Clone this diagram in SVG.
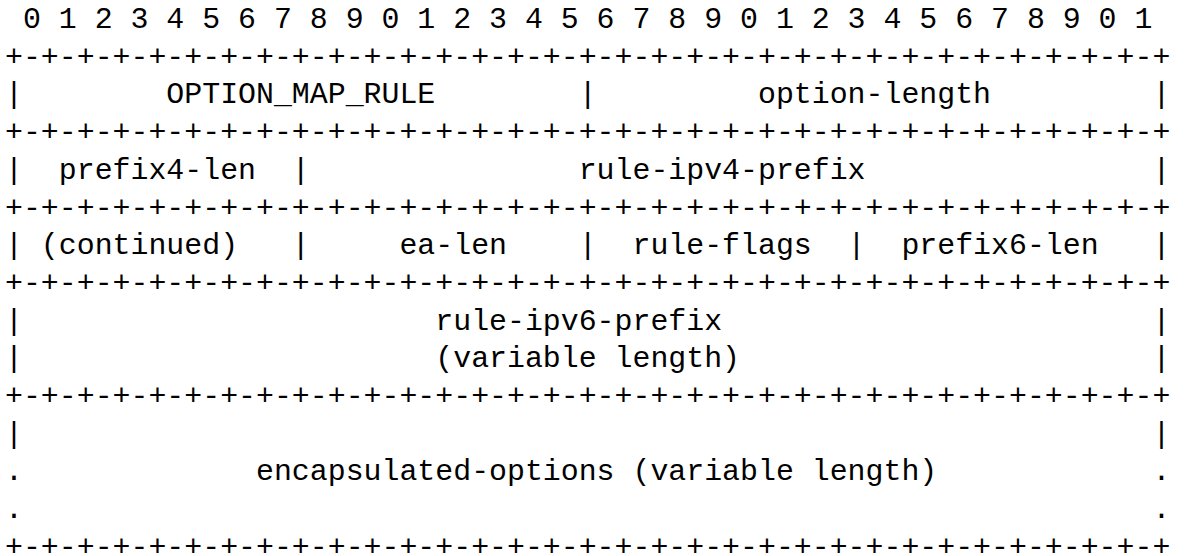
<svg xmlns="http://www.w3.org/2000/svg" width="1186" height="556" viewBox="0 0 1186 556">
<style>
text{font-family:"Liberation Mono","DejaVu Sans Mono",monospace;font-size:29.88px;fill:#000;white-space:pre}
</style>
<rect width="1186" height="556" fill="#fff"/>
<g id="diagram" xml:space="preserve">
<text x="5" y="28"> 0 1 2 3 4 5 6 7 8 9 0 1 2 3 4 5 6 7 8 9 0 1 2 3 4 5 6 7 8 9 0 1</text>
<text x="5" y="65.7">+-+-+-+-+-+-+-+-+-+-+-+-+-+-+-+-+-+-+-+-+-+-+-+-+-+-+-+-+-+-+-+-+</text>
<text x="5" y="103.4">|        OPTION_MAP_RULE        |         option-length         |</text>
<text x="5" y="141.1">+-+-+-+-+-+-+-+-+-+-+-+-+-+-+-+-+-+-+-+-+-+-+-+-+-+-+-+-+-+-+-+-+</text>
<text x="5" y="178.8">|  prefix4-len  |               rule-ipv4-prefix                |</text>
<text x="5" y="216.5">+-+-+-+-+-+-+-+-+-+-+-+-+-+-+-+-+-+-+-+-+-+-+-+-+-+-+-+-+-+-+-+-+</text>
<text x="5" y="254.2">| (continued)   |     ea-len    |  rule-flags  |  prefix6-len   |</text>
<text x="5" y="291.9">+-+-+-+-+-+-+-+-+-+-+-+-+-+-+-+-+-+-+-+-+-+-+-+-+-+-+-+-+-+-+-+-+</text>
<text x="5" y="329.6">|                       rule-ipv6-prefix                        |</text>
<text x="5" y="367.3">|                       (variable length)                       |</text>
<text x="5" y="405">+-+-+-+-+-+-+-+-+-+-+-+-+-+-+-+-+-+-+-+-+-+-+-+-+-+-+-+-+-+-+-+-+</text>
<text x="5" y="442.7">|                                                               |</text>
<text x="5" y="480.4">.             encapsulated-options (variable length)            .</text>
<text x="5" y="518.1">.                                                               .</text>
<text x="5" y="555.8">+-+-+-+-+-+-+-+-+-+-+-+-+-+-+-+-+-+-+-+-+-+-+-+-+-+-+-+-+-+-+-+-+</text>
</g>
</svg>
